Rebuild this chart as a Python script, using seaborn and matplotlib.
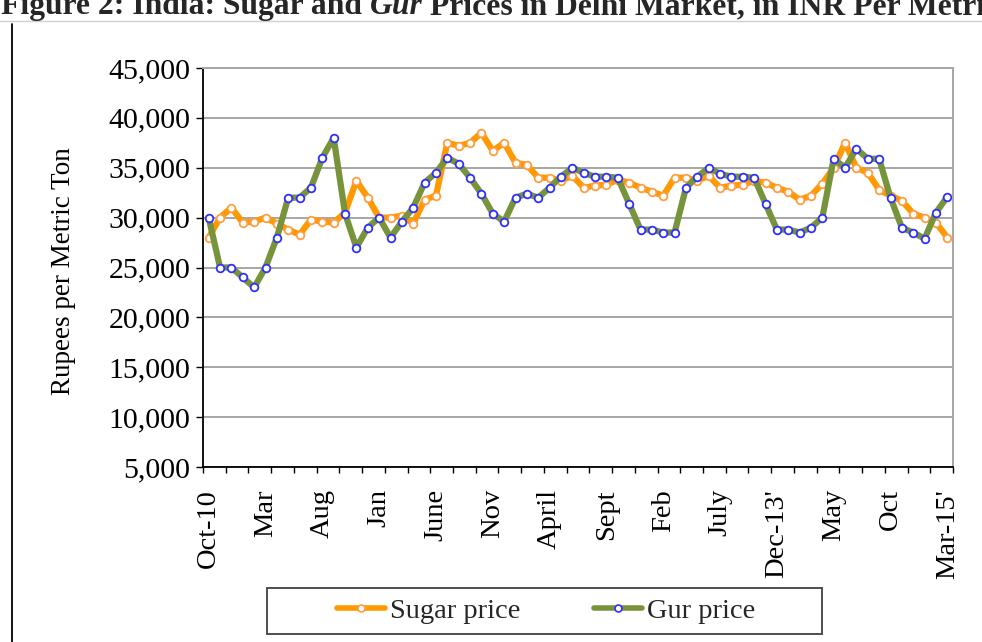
import matplotlib
matplotlib.use("Agg")
import matplotlib.pyplot as plt
import seaborn as sns
import pandas as pd
import numpy as np
from matplotlib.ticker import FuncFormatter
from matplotlib.patches import Rectangle
from matplotlib.lines import Line2D

# ---------------- data ----------------
sugar_price = [28000, 30000, 31000, 29500, 29600, 30000, 29400, 28800, 28300, 29800,
               29600, 29500, 30500, 33700, 32000, 30000, 30000, 30200, 29400, 31800,
               32200, 37500, 37200, 37500, 38500, 36700, 37500, 35500, 35300, 34000,
               34000, 33700, 34200, 33000, 33200, 33300, 33800, 33500, 33000, 32600,
               32200, 34000, 34000, 33700, 34200, 33000, 33200, 33300, 33700, 33500,
               33000, 32600, 31800, 32200, 33400, 35000, 37500, 35000, 34500, 32800,
               32200, 31700, 30400, 30000, 29500, 28000]
gur_price = [30000, 25000, 25000, 24000, 23000, 25000, 28000, 32000, 32000, 33000,
             36000, 38000, 30400, 27000, 29000, 30000, 28000, 29600, 31000, 33500,
             34500, 36000, 35400, 34000, 32400, 30400, 29600, 32000, 32400, 32000,
             33000, 34100, 35000, 34500, 34100, 34100, 34000, 31400, 28800, 28800,
             28500, 28500, 33000, 34100, 35000, 34400, 34100, 34100, 34000, 31400,
             28800, 28800, 28500, 29000, 30000, 35900, 35000, 36900, 35900, 35900,
             32000, 29000, 28500, 27900, 30500, 32100]
series_names = ["Sugar price", "Gur price"]
tick_labels = ["Oct-10", "Mar", "Aug", "Jan", "June", "Nov", "April", "Sept",
               "Feb", "July", "Dec-13'", "May", "Oct", "Mar-15'"]
label_step = 5
y_ticks = [5000, 10000, 15000, 20000, 25000, 30000, 35000, 40000, 45000]
y_label = "Rupees per Metric Ton"

n = len(sugar_price)
df = pd.DataFrame({"period": np.arange(n),
                   series_names[0]: sugar_price,
                   series_names[1]: gur_price})
long_df = df.melt(id_vars="period", var_name="series", value_name="price")

# ---------------- style ----------------
sns.set_theme(style="white")
plt.rcParams["font.family"] = ["Liberation Serif", "DejaVu Serif"]

W, H = 982, 642
fig = plt.figure(figsize=(W / 100, H / 100), dpi=100)
fig.patch.set_facecolor("white")
ax = fig.add_axes([203 / W, 1 - 467 / H, 750 / W, 399 / H])

palette = {series_names[0]: "#FF9900", series_names[1]: "#77933C"}
sns.lineplot(data=long_df, x="period", y="price", hue="series",
             hue_order=series_names, palette=palette, linewidth=4.5,
             marker="o", markersize=5.5, markerfacecolor="white",
             ax=ax, legend=False)
edge_cols = ["#FF9E40", "#2F2FFF"]
for line, ec in zip(ax.lines, edge_cols):
    line.set_markeredgecolor(ec)
    line.set_markeredgewidth(1.3)
    line.set_solid_joinstyle("round")

ax.set_xlim(-0.5, n - 0.5)
ax.set_ylim(y_ticks[0], y_ticks[-1])
ax.set_yticks(y_ticks)
ax.yaxis.set_major_formatter(FuncFormatter(lambda v, p: f"{int(v):,}"))
ax.yaxis.grid(True, color="#A6A6A6", linewidth=1.4)
ax.set_axisbelow(True)

ax.set_xticks(np.arange(0, n, label_step))
ax.set_xticklabels(tick_labels, rotation=90)
ax.set_xticks(np.arange(-0.5, n, 2), minor=True)
ax.tick_params(axis="x", which="major", length=0, pad=16, labelsize=20.5,
               labelcolor="black")
ax.tick_params(axis="x", which="minor", length=4.5, width=1.0, color="black",
               direction="out", bottom=True)
ax.tick_params(axis="y", which="major", length=5, width=1.0, color="black",
               direction="out", left=True, pad=4, labelsize=21.5,
               labelcolor="black")

for s in ["left", "bottom"]:
    ax.spines[s].set_color("black")
    ax.spines[s].set_linewidth(1.3)
for s in ["top", "right"]:
    ax.spines[s].set_color("#A6A6A6")
    ax.spines[s].set_linewidth(1.4)

ax.set_xlabel("")
ax.set_ylabel(y_label, fontsize=19.5, color="black")
ax.yaxis.set_label_coords((76 - 203) / 750, 0.49)

# ---------------- legend ----------------
handles = []
for line in ax.lines:
    handles.append(Line2D([], [], color=line.get_color(), linewidth=4,
                          marker="o", markersize=5, markerfacecolor="white",
                          markeredgecolor=line.get_markeredgecolor(),
                          markeredgewidth=1.2))
fig.legend(handles, series_names, loc="center",
           bbox_to_anchor=(546 / W, 1 - 611 / H), ncol=2, frameon=False,
           fontsize=20.5, handlelength=1.7, handletextpad=0.15,
           columnspacing=2.6)
fig.add_artist(Rectangle((267 / W, 1 - 634 / H), 555 / W, 46 / H,
                         transform=fig.transFigure, fill=False,
                         edgecolor="#404040", linewidth=1.3))

# ---------------- page decorations ----------------
fig.add_artist(Line2D([0, 1], [1 - 21 / H] * 2, transform=fig.transFigure,
                      color="#D0D0D0", linewidth=1.0))
fig.add_artist(Line2D([12 / W] * 2, [0, 1 - 24 / H], transform=fig.transFigure,
                      color="black", linewidth=1.3))

# title (cut at the top as in the reference)
t1 = fig.text(1 / W, 1 - 14 / H, "Figure 2: India: Sugar and ",
              fontsize=22.8, fontweight="bold", va="baseline", ha="left")
t2 = ax.annotate("Gur", xy=(1, 0), xycoords=t1, va="bottom", ha="left",
                 fontsize=22.8, fontweight="bold", fontstyle="italic")
t3 = ax.annotate(" Prices in Delhi Market, in INR Per Metric Ton", xy=(1, 0),
                 xycoords=t2, va="bottom", ha="left",
                 fontsize=22.8, fontweight="bold")

fig.savefig("out.png", dpi=100, facecolor="white")
